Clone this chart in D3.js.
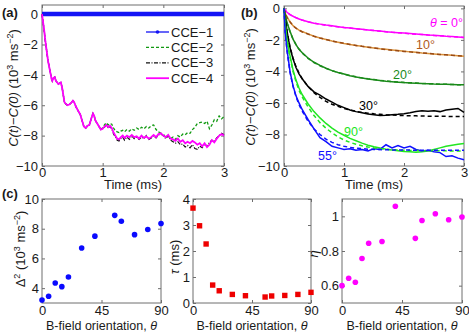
<!DOCTYPE html>
<html>
<head>
<meta charset="utf-8">
<script src="https://cdn.jsdelivr.net/npm/d3@7"></script>
<style>
  body { margin: 0; background: #fff; }
  svg text { font-family: "Liberation Sans", Arial, sans-serif; fill: #1a1a1a; }
</style>
</head>
<body>
<svg id="svg" width="469" height="333"></svg>
<script>
// ---- panel (a): CCE orders, C(t)-C(0) vs time (ms)
const timeA = [0,0.02,0.04,0.05,0.07,0.09,0.10,0.12,0.14,0.16,
  0.17,0.19,0.21,0.23,0.25,0.27,0.29,0.31,0.33,0.35,
  0.37,0.39,0.42,0.45,0.48,0.51,0.53,0.56,0.60,0.63,
  0.66,0.69,0.72,0.75,0.78,0.81,0.84,0.86,0.88,0.91,
  0.94,0.97,1.00,1.03,1.06,1.09,1.12,1.15,1.18,1.21,
  1.24,1.27,1.30,1.33,1.36,1.40,1.44,1.48,1.52,1.56,
  1.60,1.64,1.68,1.72,1.76,1.80,1.84,1.88,1.92,1.96,
  2.00,2.04,2.08,2.12,2.16,2.20,2.24,2.28,2.32,2.36,
  2.40,2.44,2.48,2.52,2.56,2.60,2.64,2.68,2.72,2.76,
  2.80,2.84,2.88,2.92,2.96,3.00];
const cce1Time = [0, 3];
const cce1 = [0, 0];
const cce2 = [0,-0.6,-1.2,-1.6,-2.2,-2.8,-3.1,-3.5,-3.9,-4.3,
  -4.4,-4.2,-4.15,-4.4,-4.5,-4.6,-4.55,-4.5,-4.8,-5.3,
  -5.8,-5.9,-6.0,-5.95,-5.85,-5.7,-5.8,-6.1,-6.4,-6.6,
  -7.0,-7.4,-7.5,-7.35,-7.3,-6.9,-6.55,-6.7,-7.0,-7.2,
  -7.4,-7.6,-7.5,-7.3,-7.15,-7.3,-7.2,-7.25,-7.5,-7.7,
  -7.75,-7.8,-7.7,-7.65,-7.75,-7.6,-7.7,-7.55,-7.65,-7.5,
  -7.6,-7.45,-7.55,-7.4,-7.5,-7.35,-7.3,-7.6,-7.75,-7.85,
  -8.0,-7.95,-8.05,-8.2,-8.1,-8.25,-8.0,-8.1,-7.9,-7.95,
  -7.8,-7.85,-7.6,-7.45,-7.2,-7.15,-7.1,-7.2,-7.05,-7.55,
  -7.3,-6.95,-7.05,-6.7,-6.9,-6.75];
const cce3 = [0,-0.6,-1.2,-1.6,-2.2,-2.8,-3.1,-3.5,-3.9,-4.3,
  -4.4,-4.2,-4.15,-4.4,-4.5,-4.6,-4.55,-4.5,-4.8,-5.3,
  -5.8,-5.9,-6.0,-5.95,-5.85,-5.7,-5.8,-6.1,-6.4,-6.6,
  -7.0,-7.4,-7.5,-7.35,-7.3,-6.9,-6.55,-6.7,-7.0,-7.2,
  -7.4,-7.6,-7.5,-7.45,-7.3,-7.5,-7.4,-7.55,-7.9,-8.1,
  -8.3,-8.35,-8.2,-8.1,-8.3,-8.1,-8.25,-8.0,-8.2,-8.1,
  -8.25,-8.1,-8.2,-8.0,-8.25,-8.15,-8.0,-8.15,-7.95,-7.9,
  -8.0,-8.2,-8.0,-8.3,-8.4,-8.5,-8.4,-8.6,-8.55,-8.75,
  -8.65,-8.8,-8.6,-8.85,-8.9,-8.7,-8.8,-8.55,-8.7,-8.45,
  -8.3,-8.4,-8.15,-8.0,-7.85,-7.95];
const cce4 = [0,-0.6,-1.2,-1.6,-2.2,-2.8,-3.1,-3.5,-3.9,-4.3,
  -4.4,-4.2,-4.15,-4.4,-4.5,-4.6,-4.55,-4.5,-4.8,-5.3,
  -5.8,-5.9,-6.0,-5.95,-5.85,-5.7,-5.8,-6.1,-6.4,-6.6,
  -7.0,-7.4,-7.5,-7.35,-7.3,-6.9,-6.55,-6.7,-7.0,-7.2,
  -7.4,-7.6,-7.55,-7.4,-7.3,-7.45,-7.35,-7.5,-7.8,-8.0,
  -8.2,-8.25,-8.1,-8.0,-8.15,-8.0,-8.1,-7.95,-8.1,-8.05,
  -8.2,-8.0,-8.15,-8.05,-8.2,-8.1,-7.95,-8.1,-7.9,-7.85,
  -8.0,-8.1,-7.95,-8.2,-8.25,-8.35,-8.2,-8.4,-8.3,-8.5,
  -8.4,-8.5,-8.35,-8.45,-8.6,-8.5,-8.7,-8.5,-8.75,-8.6,
  -8.3,-8.45,-8.2,-8.0,-7.9,-8.0];
const legendNames = ["CCE\u22121", "CCE\u22122", "CCE\u22123", "CCE\u22124"];

// ---- panel (b): data (solid) and fits (dashed) for several orientations
const timeB = [0,0.02,0.05,0.1,0.15,0.2,0.25,0.3,0.4,0.5,0.6,0.7,0.8,0.9,1.0,1.1,1.2,1.3,
  1.4,1.5,1.6,1.7,1.8,1.9,2.0,2.1,2.2,2.3,2.4,2.5,2.6,2.7,2.8,2.9,3.0];
const data0 = [0,-0.12,-0.25,-0.4,-0.5,-0.6,-0.67,-0.74,-0.85,-0.94,-1.0,-1.06,-1.11,-1.16,-1.21,-1.25,-1.29,-1.33,
  -1.37,-1.41,-1.44,-1.48,-1.51,-1.54,-1.57,-1.6,-1.63,-1.66,-1.69,-1.71,-1.74,-1.77,-1.79,-1.82,-1.85];
const fit0 = [0,-0.12,-0.25,-0.4,-0.5,-0.59,-0.67,-0.74,-0.85,-0.94,-1.01,-1.07,-1.12,-1.17,-1.21,-1.25,-1.29,-1.33,
  -1.37,-1.41,-1.45,-1.48,-1.52,-1.55,-1.58,-1.61,-1.64,-1.66,-1.69,-1.72,-1.74,-1.77,-1.8,-1.82,-1.85];
const data10 = [0,-0.3,-0.55,-0.85,-1.1,-1.25,-1.38,-1.47,-1.62,-1.77,-1.88,-1.98,-2.07,-2.15,-2.23,-2.29,-2.35,-2.41,
  -2.46,-2.51,-2.56,-2.6,-2.64,-2.68,-2.72,-2.76,-2.79,-2.83,-2.86,-2.89,-2.92,-2.95,-2.98,-3.0,-3.03];
const fit10 = [0,-0.3,-0.56,-0.86,-1.1,-1.26,-1.38,-1.48,-1.63,-1.77,-1.88,-1.98,-2.07,-2.15,-2.22,-2.29,-2.35,-2.41,
  -2.46,-2.51,-2.56,-2.61,-2.65,-2.69,-2.73,-2.76,-2.8,-2.83,-2.86,-2.89,-2.92,-2.95,-2.98,-3.01,-3.04];
const data20 = [0,-0.45,-0.9,-1.45,-1.95,-2.3,-2.6,-2.8,-3.15,-3.42,-3.62,-3.8,-3.95,-4.07,-4.17,-4.27,-4.35,-4.42,
  -4.48,-4.53,-4.58,-4.62,-4.65,-4.68,-4.71,-4.73,-4.75,-4.77,-4.78,-4.8,-4.81,-4.82,-4.83,-4.84,-4.85];
const fit20 = [0,-0.45,-0.92,-1.48,-1.95,-2.3,-2.58,-2.82,-3.17,-3.44,-3.64,-3.81,-3.95,-4.07,-4.17,-4.26,-4.34,-4.41,
  -4.47,-4.52,-4.57,-4.61,-4.64,-4.67,-4.7,-4.72,-4.74,-4.76,-4.78,-4.79,-4.81,-4.82,-4.83,-4.84,-4.85];
const data30 = [0,-0.6,-1.45,-2.5,-3.2,-3.75,-4.15,-4.45,-4.95,-5.3,-5.5,-5.75,-5.95,-6.15,-6.3,-6.45,-6.55,-6.62,
  -6.7,-6.75,-6.8,-6.78,-6.75,-6.72,-6.68,-6.62,-6.55,-6.5,-6.52,-6.5,-6.55,-6.45,-6.4,-6.35,-6.6];
const fit30 = [0,-0.6,-1.45,-2.45,-3.15,-3.7,-4.1,-4.45,-4.95,-5.35,-5.65,-5.9,-6.08,-6.22,-6.35,-6.45,-6.53,-6.6,
  -6.65,-6.69,-6.72,-6.75,-6.77,-6.79,-6.8,-6.81,-6.82,-6.83,-6.84,-6.84,-6.85,-6.85,-6.86,-6.86,-6.86];
const data90 = [0,-0.9,-2.0,-3.0,-3.9,-4.55,-5.05,-5.45,-6.05,-6.55,-6.95,-7.3,-7.6,-7.85,-8.05,-8.25,-8.4,-8.55,
  -8.68,-8.78,-8.86,-8.93,-8.98,-9.03,-9.08,-9.1,-9.12,-9.1,-9.05,-8.95,-8.85,-8.75,-8.68,-8.62,-8.58];
const fit90 = [0,-0.95,-2.1,-3.1,-4.0,-4.65,-5.2,-5.6,-6.25,-6.8,-7.25,-7.6,-7.9,-8.15,-8.35,-8.5,-8.62,-8.72,
  -8.8,-8.86,-8.9,-8.94,-8.97,-8.99,-9.0,-9.01,-9.02,-9.03,-9.03,-9.04,-9.04,-9.04,-9.05,-9.05,-9.05];
const data55 = [0,-1.5,-2.6,-4.0,-4.9,-5.55,-6.0,-6.4,-7.05,-7.65,-8.2,-8.45,-8.75,-8.85,-8.95,-8.9,-9.0,-8.95,
  -9.05,-8.9,-8.95,-8.65,-8.85,-8.7,-8.85,-8.75,-8.95,-9.05,-9.0,-9.1,-9.15,-9.4,-9.35,-9.5,-9.6];
const fit55 = [0,-1.5,-2.7,-4.05,-4.95,-5.6,-6.1,-6.5,-7.15,-7.65,-8.0,-8.3,-8.5,-8.65,-8.75,-8.82,-8.87,-8.9,
  -8.93,-8.95,-8.96,-8.97,-8.98,-8.98,-8.99,-8.99,-9.0,-9.0,-9.0,-9.0,-9.0,-9.0,-9.0,-9.0,-9.0];

// ---- panel (c): fit parameters vs B-field orientation (deg)
const angles = [0, 5, 10, 15, 20, 30, 40, 55, 60, 70, 80, 90];
const delta2 = [3.2, 3.45, 4.35, 4.1, 4.75, 6.7, 7.5, 8.9, 8.5, 7.6, 7.95, 8.35];
const tau = [3.65, 2.97, 2.27, 0.69, 0.47, 0.33, 0.28, 0.23, 0.27, 0.29, 0.33, 0.41];
const expN = [0.6, 0.643, 0.62, 0.757, 0.845, 0.855, 1.058, 0.873, 0.976, 1.015, 0.98, 0.996];

const svg = d3.select("#svg");
const axisColor = "#6e6e6e";

// box with inward ticks on all four sides (matlab style)
function makeAxes(o) {
  const x = d3.scaleLinear().domain(o.xDomain).range([o.left, o.right]);
  const y = d3.scaleLinear().domain(o.yDomain).range([o.bottom, o.top]);
  const g = svg.append("g");

  const fmtY = o.yFormat || d3.format("");
  const axes = [
    [d3.axisBottom(x).tickFormat(d3.format("")), `translate(0,${o.bottom})`, o.xTicks, o.xPad || 3],
    [d3.axisTop(x).tickFormat(""), `translate(0,${o.top})`, o.xTicks, 4],
    [d3.axisLeft(y).tickFormat(fmtY), `translate(${o.left},0)`, o.yTicks, o.yPad || 4],
    [d3.axisRight(y).tickFormat(""), `translate(${o.right},0)`, o.yTicks, 4]
  ];
  axes.forEach(([ax, tr, vals, p]) => {
    const a = g.append("g")
      .attr("transform", tr)
      .call(ax.tickValues(vals).tickSizeInner(-3).tickSizeOuter(0).tickPadding(p));
    a.attr("font-size", 13).attr("font-family", null);
    a.select(".domain").remove();
    a.selectAll(".tick line").attr("stroke", axisColor);
  });

  g.append("rect")
    .attr("x", o.left).attr("y", o.top)
    .attr("width", o.right - o.left).attr("height", o.bottom - o.top)
    .attr("fill", "none").attr("stroke", axisColor).attr("stroke-width", 1);
  return { x, y, g };
}

function ylabelC(g, cx, cy) {
  const t = g.append("text")
    .attr("transform", `translate(${cx},${cy}) rotate(-90)`)
    .attr("text-anchor", "middle")
    .attr("font-size", 13);
  t.append("tspan").attr("font-style", "italic").text("C(t)");
  t.append("tspan").text("\u2212");
  t.append("tspan").attr("font-style", "italic").text("C(0)");
  t.append("tspan").text(" (10");
  t.append("tspan").attr("font-size", 9).attr("dy", -5).text("3");
  t.append("tspan").attr("dy", 5).text(" ms");
  t.append("tspan").attr("font-size", 9).attr("dy", -5).text("\u22122");
  t.append("tspan").attr("dy", 5).text(")");
}

function timeLabel(cx) {
  svg.append("text")
    .attr("x", cx).attr("y", 189)
    .attr("text-anchor", "middle")
    .attr("font-size", 13)
    .text("Time (ms)");
}

// ================= panel (a)
const A = makeAxes({
  left: 42, right: 224, top: 5, bottom: 166,
  xDomain: [0, 3], yDomain: [-10, 0.6],
  xTicks: [0, 1, 2, 3], yTicks: [-10, -8, -6, -4, -2, 0], xPad: 2
});
const lineA = d3.line().x(d => A.x(d[0])).y(d => A.y(d[1]));

const seriesA = [
  { t: cce1Time, v: cce1, color: "#1414f5", width: 4.5, dash: null },
  { t: timeA, v: cce2, color: "#119911", width: 1.3, dash: "3,2" },
  { t: timeA, v: cce3, color: "#111111", width: 1.2, dash: "4,1.5,1,1.5" },
  { t: timeA, v: cce4, color: "#ff00ff", width: 1.8, dash: null }
];
A.g.selectAll("path.cce")
  .data(seriesA)
  .enter()
  .append("path")
  .attr("class", "cce")
  .attr("d", d => lineA(d3.zip(d.t, d.v)))
  .attr("fill", "none")
  .attr("stroke", d => d.color)
  .attr("stroke-width", d => d.width)
  .attr("stroke-dasharray", d => d.dash);

// legend
const leg = A.g.selectAll("g.leg")
  .data(seriesA)
  .enter()
  .append("g")
  .attr("class", "leg")
  .attr("transform", (d, i) => `translate(146,${32 + i * 15.4})`);
leg.append("line")
  .attr("x1", 0).attr("x2", 23)
  .attr("stroke", d => d.color)
  .attr("stroke-width", (d, i) => i === 0 ? 1.3 : d.width)
  .attr("stroke-dasharray", d => d.dash);
leg.filter((d, i) => i === 0).append("circle")
  .attr("cx", 11.5).attr("r", 1.8).attr("fill", d => d.color);
leg.append("text")
  .attr("x", 25).attr("dy", "0.35em")
  .attr("font-size", 13)
  .text((d, i) => legendNames[i]);

ylabelC(svg, 18, 88);
timeLabel(133);

// ================= panel (b)
const B = makeAxes({
  left: 284, right: 464, top: 6, bottom: 166,
  xDomain: [0, 3], yDomain: [-10, 0.15],
  xTicks: [0, 1, 2, 3], yTicks: [-10, -8, -6, -4, -2, 0], xPad: 2
});
const lineB = d3.line().x(d => B.x(d[0])).y(d => B.y(d[1]));

const seriesB = [
  { data: data0, fit: fit0, color: "#ff00ff", fitColor: "#ff00ff" },
  { data: data10, fit: fit10, color: "#d8913c", fitColor: "#9a4a14" },
  { data: data20, fit: fit20, color: "#1a8a1a", fitColor: "#1a8a1a" },
  { data: data30, fit: fit30, color: "#000000", fitColor: "#000000" },
  { data: data90, fit: fit90, color: "#22e622", fitColor: "#22e622" },
  { data: data55, fit: fit55, color: "#1010ff", fitColor: "#1010ff" }
];
seriesB.forEach(s => {
  B.g.append("path")
    .attr("d", lineB(d3.zip(timeB, s.data)))
    .attr("fill", "none").attr("stroke", s.color).attr("stroke-width", 1.5);
});
seriesB.forEach(s => {
  B.g.append("path")
    .attr("d", lineB(d3.zip(timeB, s.fit)))
    .attr("fill", "none").attr("stroke", s.fitColor).attr("stroke-width", 1.5)
    .attr("stroke-dasharray", "4,3");
});

const angleLabels = [
  { text: "0\u00b0", x: 463, y: 27, color: "#ff00ff", theta: true },
  { text: "10\u00b0", x: 435, y: 49, color: "#b05a1c" },
  { text: "20\u00b0", x: 412, y: 79, color: "#1a8a1a" },
  { text: "30\u00b0", x: 378, y: 110, color: "#000000" },
  { text: "90\u00b0", x: 363, y: 136, color: "#22e622" },
  { text: "55\u00b0", x: 337, y: 160, color: "#1010ff" }
];
angleLabels.forEach(l => {
  const t = svg.append("text")
    .attr("x", l.x).attr("y", l.y)
    .attr("text-anchor", "end")
    .attr("font-size", 12.5)
    .style("fill", l.color);
  if (l.theta) {
    t.append("tspan").attr("font-style", "italic").text("\u03b8");
    t.append("tspan").text(" = ");
  }
  t.append("tspan").text(l.text);
});

ylabelC(svg, 255, 87);
timeLabel(374);

// ================= panel (c)
const cPanels = [
  { left: 42, right: 161, yDomain: [3, 10], yTicks: [4, 6, 8, 10], vals: delta2, color: "#0a0aff", shape: "circle" },
  { left: 193, right: 311, yDomain: [0, 4], yTicks: [0, 1, 2, 3, 4], vals: tau, color: "#ee0000", shape: "square" },
  { left: 342, right: 462, yDomain: [0.5, 1.1], yTicks: [0.6, 0.8, 1.0], vals: expN, color: "#ff00ff", shape: "circle" }
];
cPanels.forEach((p, k) => {
  const C = makeAxes({
    left: p.left, right: p.right, top: 199, bottom: 303,
    xDomain: [0, 90], yDomain: p.yDomain,
    xTicks: [0, 45, 90], yTicks: p.yTicks,
    yFormat: d => String(d), xPad: 3, yPad: 3
  });
  const pts = d3.zip(angles, p.vals);
  if (p.shape === "circle") {
    C.g.selectAll("circle.pt").data(pts).enter().append("circle")
      .attr("class", "pt")
      .attr("cx", d => C.x(d[0])).attr("cy", d => C.y(d[1]))
      .attr("r", 2.8).attr("fill", p.color);
  } else {
    C.g.selectAll("rect.pt").data(pts).enter().append("rect")
      .attr("class", "pt")
      .attr("x", d => C.x(d[0]) - 2.7).attr("y", d => C.y(d[1]) - 2.7)
      .attr("width", 5.4).attr("height", 5.4).attr("fill", p.color);
  }
  const xl = svg.append("text")
    .attr("x", (p.left + p.right) / 2).attr("y", 329.5)
    .attr("text-anchor", "middle").attr("font-size", 12.5);
  xl.append("tspan").text("B-field orientation, ");
  xl.append("tspan").attr("font-style", "italic").text("\u03b8");
});

// y labels of (c)
const d2 = svg.append("text")
  .attr("transform", "translate(25,249) rotate(-90)")
  .attr("text-anchor", "middle").attr("font-size", 13);
d2.append("tspan").text("\u0394");
d2.append("tspan").attr("font-size", 9).attr("dy", -5).text("2");
d2.append("tspan").attr("dy", 5).text(" (10");
d2.append("tspan").attr("font-size", 9).attr("dy", -5).text("3");
d2.append("tspan").attr("dy", 5).text(" ms");
d2.append("tspan").attr("font-size", 9).attr("dy", -5).text("\u22122");
d2.append("tspan").attr("dy", 5).text(")");

const tl = svg.append("text")
  .attr("transform", "translate(179,257) rotate(-90)")
  .attr("text-anchor", "middle").attr("font-size", 13);
tl.append("tspan").attr("font-style", "italic").text("\u03c4");
tl.append("tspan").text(" (ms)");

svg.append("text")
  .attr("transform", "translate(318,254) rotate(-90)")
  .attr("text-anchor", "middle").attr("font-size", 13)
  .attr("font-style", "italic")
  .text("\u03b7");

// panel letters
[["(a)", 2, 17], ["(b)", 241, 17], ["(c)", 2, 198]].forEach(([s, x, y]) => {
  svg.append("text").attr("x", x).attr("y", y)
    .attr("font-size", 13).attr("font-weight", "bold").text(s);
});
</script>
</body>
</html>
